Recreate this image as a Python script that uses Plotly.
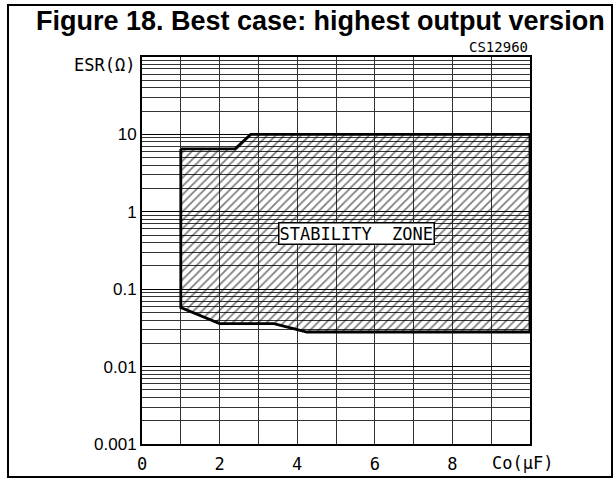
import plotly.graph_objects as go

# ---- data ----
upper_c = [1.0, 2.4, 2.8, 10.0]          # Co (uF) along upper boundary
upper_esr = [6.5, 6.5, 10.0, 10.0]       # ESR (ohm)
lower_c = [1.0, 2.0, 3.4, 4.25, 10.0]    # Co (uF) along lower boundary
lower_esr = [0.058, 0.036, 0.036, 0.028, 0.028]

x_tick_vals = [0, 2, 4, 6, 8]
x_tick_text = ["0", "2", "4", "6", "8"]
y_tick_vals = [0.001, 0.01, 0.1, 1, 10]
y_tick_text = ["0.001", "0.01", "0.1", "1", "10"]
decades = [0.001, 0.01, 0.1, 1, 10]
digits = [2, 3, 4, 5, 6, 7, 8, 9]

title_text = "Figure 18. Best case: highest output version"
zone_label = "STABILITY&nbsp;&nbsp;ZONE"

# polygon = upper boundary then lower boundary reversed
poly_x = upper_c + lower_c[::-1] + [upper_c[0]]
poly_y = upper_esr + lower_esr[::-1] + [upper_esr[0]]

minor_vals = [d * k for d in decades for k in digits]

fig = go.Figure()
fig.add_trace(go.Scatter(
    x=poly_x, y=poly_y, mode="lines", fill="toself",
    fillcolor="rgba(0,0,0,0)",
    fillpattern=dict(shape="/", size=6, solidity=0.3, fgcolor="black"),
    line=dict(color="black", width=2.8), hoverinfo="skip", showlegend=False,
))

grid_col = "#333333"
mono = "DejaVu Sans Mono"
sans = "Liberation Sans, Arial"

fig.update_xaxes(
    range=[0, 10], tickmode="array", tickvals=x_tick_vals, ticktext=x_tick_text,
    showgrid=True, gridcolor=grid_col, gridwidth=1,
    minor=dict(tickmode="array", tickvals=[1, 3, 5, 7, 9], showgrid=True,
               gridcolor=grid_col, gridwidth=1),
    showline=True, linecolor="black", linewidth=2, mirror=True,
    ticks="", zeroline=False, automargin=False,
    tickfont=dict(family=mono, size=17, color="black"),
    ticklabelstandoff=4,
)
fig.update_yaxes(
    type="log", range=[-3, 2], tickmode="array", tickvals=y_tick_vals,
    ticktext=y_tick_text,
    showgrid=True, gridcolor="black", gridwidth=1,
    minor=dict(tickmode="array", tickvals=minor_vals, showgrid=True,
               gridcolor=grid_col, gridwidth=1),
    showline=True, linecolor="black", linewidth=2, mirror=True,
    ticks="", zeroline=False, automargin=False,
    tickfont=dict(family=sans, size=17, color="black"),
)

fig.update_layout(
    width=616, height=479, autosize=False,
    margin=dict(l=142, r=86, t=57, b=35),
    paper_bgcolor="white", plot_bgcolor="white",
    showlegend=False,
)

fig.add_annotation(text="<b>" + title_text + "</b>", xref="paper", yref="paper",
                   x=(320 - 142) / 388, y=(444 - 21) / 387, showarrow=False,
                   xanchor="center", yanchor="middle",
                   font=dict(family=sans, size=27, color="black"))
fig.add_annotation(text="CS12960", xref="paper", yref="paper",
                   x=1.0, y=(444 - 47) / 387, showarrow=False,
                   xanchor="right", yanchor="middle",
                   font=dict(family=mono, size=14, color="black"))
fig.add_annotation(text="ESR(Ω)", xref="paper", yref="paper",
                   x=(137 - 142) / 388, y=(444 - 65) / 387, showarrow=False,
                   xanchor="right", yanchor="middle",
                   font=dict(family=mono, size=17, color="black"))
fig.add_annotation(text="Co(μF)", xref="paper", yref="paper",
                   x=(522 - 142) / 388, y=(444 - 463) / 387, showarrow=False,
                   xanchor="center", yanchor="middle",
                   font=dict(family=mono, size=17, color="black"))
fig.add_annotation(text=zone_label, x=5.52, y=-0.278, xref="x", yref="y",
                   showarrow=False, bgcolor="white", bordercolor="black",
                   borderwidth=1.5, borderpad=0,
                   font=dict(family=mono, size=17, color="black"))

# outer frame
fig.add_shape(type="rect", xref="paper", yref="paper",
              x0=(8 - 142) / 388, x1=(612 - 142) / 388,
              y0=(444 - 477) / 387, y1=(444 - 5) / 387,
              line=dict(color="black", width=2), layer="above")

fig.write_html("out.html", config={"displayModeBar": False},
               post_script="document.body.style.margin='0';document.body.style.overflow='hidden';")
